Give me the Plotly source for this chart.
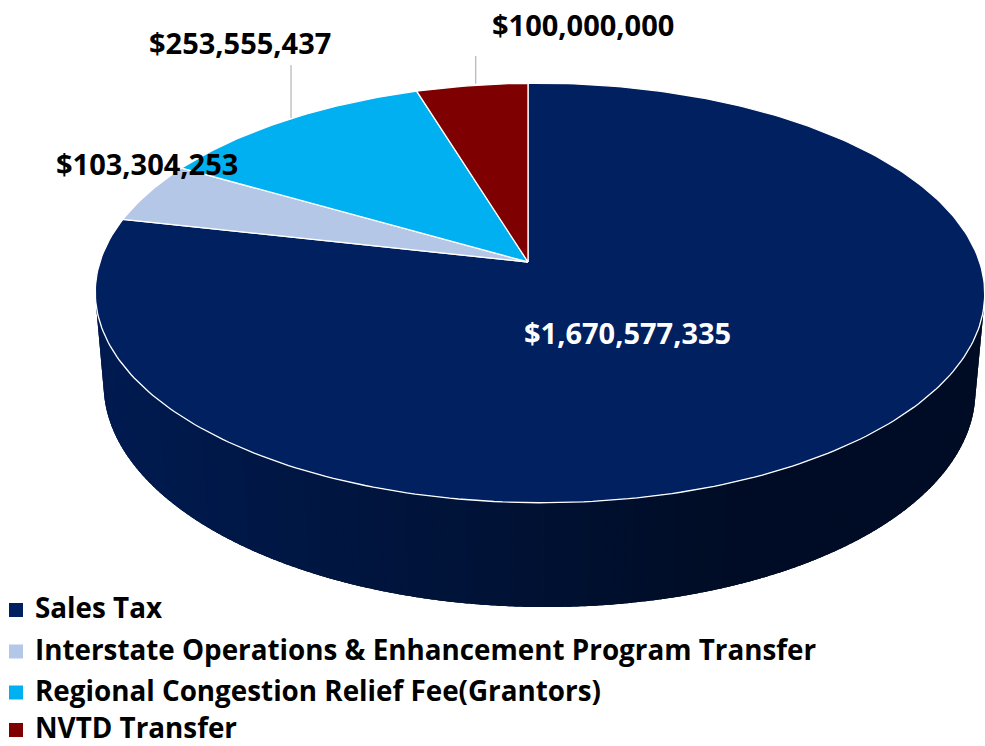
import numpy as np
import plotly.graph_objects as go

# ---------------- data ----------------
categories = [
    "Sales Tax",
    "Interstate Operations & Enhancement Program Transfer",
    "Regional Congestion Relief Fee(Grantors)",
    "NVTD Transfer",
]
values = [1670577335, 103304253, 253555437, 100000000]
value_labels = ["$1,670,577,335", "$103,304,253", "$253,555,437", "$100,000,000"]
colors = ["#002060", "#B4C7E7", "#00B0F0", "#7F0000"]

# ---------------- layout / 3D view parameters ----------------
W, H = 985, 746
APEX_X, APEX_Y = 528, 262     # pixel position of the pie centre
F = 2559                      # focal scale
D = 5.97                      # camera distance (in radii)
ELEV = np.radians(28.2)       # camera elevation
YAW = np.radians(9.05)        # slight horizontal turn
THICK = 0.25                  # pie thickness (in radii)

# label positions (pixels) and leader-line tops
label_pos = [(627, 332), (147, 163), (240, 42), (583, 24)]
label_color = ["white", "black", "black", "black"]
leader_top = [None, None, 65, 56]

legend_x_marker, legend_x_text = 16, 33
legend_marker_rows = [610, 651.5, 692.5, 730]
legend_text_rows = [607, 648.5, 689.5, 727]

FONT = "Open Sans"


def project(X, Y, Z):
    c, s = np.cos(ELEV), np.sin(ELEV)
    X = np.asarray(X, float); Y = np.asarray(Y, float); Z = np.asarray(Z, float)
    vf = Y * c + D - Z * s
    u = X / vf
    v = (Y * s + Z * c) / vf
    cf, sf = np.cos(YAW), np.sin(YAW)
    u2 = u / (cf * cf - u * sf * cf)
    v2 = v / (cf - u * sf)
    return APEX_X + F * u2, APEX_Y - F * v2


def hex_rgb(h):
    h = h.lstrip("#")
    return tuple(int(h[i:i + 2], 16) for i in (0, 2, 4))


def shade(rgb, px):
    tt = np.clip((px - 100) / 620.0, 0, 1)
    fct = 0.84 - 0.45 * tt
    return "rgb(%d,%d,%d)" % tuple(int(round(ch * fct)) for ch in rgb)


total = float(sum(values))
frac = np.array(values, float) / total
bounds = np.concatenate([[0.0], np.cumsum(frac)]) * 2 * np.pi

fig = go.Figure()

# ---------------- side walls (front-facing part only) ----------------
vis_lo = np.arccos(-1.0 / (D * np.cos(ELEV)))
vis_hi = 2 * np.pi - vis_lo
NQ = 160
for i in range(len(values)):
    a0, a1 = max(bounds[i], vis_lo), min(bounds[i + 1], vis_hi)
    if a1 <= a0:
        continue
    rgb = hex_rgb(colors[i])
    # base wall in one piece
    ts = np.linspace(a0, a1, 200)
    X = np.concatenate([np.sin(ts), np.sin(ts[::-1])])
    Y = np.concatenate([np.cos(ts), np.cos(ts[::-1])])
    Z = np.concatenate([np.zeros_like(ts), -THICK * np.ones_like(ts)])
    px, py = project(X, Y, Z)
    fig.add_trace(go.Scatter(x=px, y=py, mode="none", fill="toself",
                             fillcolor=shade(rgb, np.mean(px)),
                             hoverinfo="skip", showlegend=False))
    # shaded strips, slightly overlapping to hide seams
    n = max(2, int(np.ceil(NQ * (a1 - a0) / (vis_hi - vis_lo))))
    ts = np.linspace(a0, a1, n + 1)
    step = ts[1] - ts[0]
    for k in range(n):
        t0 = ts[k]
        t1 = min(ts[k + 1] + 0.6 * step, a1)
        sub = np.linspace(t0, t1, 4)
        X = np.concatenate([np.sin(sub), np.sin(sub[::-1])])
        Y = np.concatenate([np.cos(sub), np.cos(sub[::-1])])
        Z = np.concatenate([np.zeros(4), -THICK * np.ones(4)])
        px, py = project(X, Y, Z)
        fig.add_trace(go.Scatter(
            x=px, y=py, mode="none", fill="toself",
            fillcolor=shade(rgb, np.mean(px)),
            hoverinfo="skip", showlegend=False))

# ---------------- top faces ----------------
for i in range(len(values)):
    n = max(4, int(np.ceil(360 * frac[i])))
    ts = np.linspace(bounds[i], bounds[i + 1], n + 1)
    X = np.concatenate([[0], np.sin(ts), [0]])
    Y = np.concatenate([[0], np.cos(ts), [0]])
    px, py = project(X, Y, np.zeros_like(X))
    fig.add_trace(go.Scatter(
        x=px, y=py, mode="lines", fill="toself", fillcolor=colors[i],
        line=dict(color="white", width=1.3), name=categories[i],
        hoverinfo="skip", showlegend=False))

# ---------------- leader lines & labels ----------------
for i in range(len(values)):
    mid = 0.5 * (bounds[i] + bounds[i + 1])
    if leader_top[i] is not None:
        rx, ry = project([np.sin(mid)], [np.cos(mid)], [0])
        fig.add_trace(go.Scatter(
            x=[rx[0] + 4, rx[0] + 4], y=[ry[0] - 2, leader_top[i]], mode="lines",
            line=dict(color="#A6A6A6", width=1), hoverinfo="skip", showlegend=False))
    lx, ly = label_pos[i]
    fig.add_annotation(x=lx, y=ly, xref="x", yref="y", text="<b>%s</b>" % value_labels[i],
                       showarrow=False, xanchor="center", yanchor="middle",
                       font=dict(family=FONT, size=29, color=label_color[i]))

# ---------------- legend ----------------
fig.add_trace(go.Scatter(
    x=[legend_x_marker] * len(categories), y=legend_marker_rows, mode="markers",
    marker=dict(symbol="square", size=14, color=colors, line=dict(width=0)),
    hoverinfo="skip", showlegend=False))
for i, cat in enumerate(categories):
    fig.add_annotation(x=legend_x_text, y=legend_text_rows[i], xref="x", yref="y",
                       text="<b>%s</b>" % cat, showarrow=False,
                       xanchor="left", yanchor="middle",
                       font=dict(family=FONT, size=27.8, color="black"))

fig.update_layout(
    width=W, height=H, margin=dict(l=0, r=0, t=0, b=0),
    paper_bgcolor="white", plot_bgcolor="white",
    xaxis=dict(range=[0, W], visible=False, fixedrange=True),
    yaxis=dict(range=[H, 0], visible=False, fixedrange=True),
    hovermode=False, showlegend=False,
)
fig.write_html("out.html")
